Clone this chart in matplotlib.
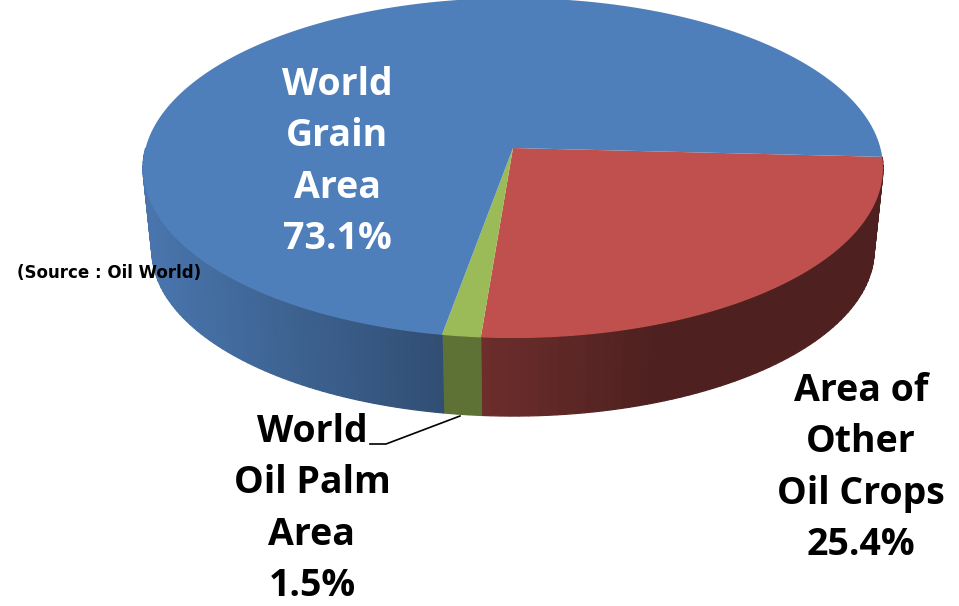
import numpy as np
import matplotlib
matplotlib.use("Agg")
import matplotlib.pyplot as plt
from matplotlib.colors import to_rgb

labels = ["Area of\nOther\nOil Crops\n25.4%", "World\nOil Palm\nArea\n1.5%", "World\nGrain\nArea\n73.1%"]
values = [25.4, 1.5, 73.1]
top_colors = ["#bf504d", "#9bbb59", "#4f7fbb"]
source = "(Source : Oil World)"

W, H = 959, 606
CX, APEX_Y, A, B, K = 513, 148, 367.4, 167.6, 0.118
LOWER_Y, LOWER_SCALE = 230.6, 0.976
START = 3.0

plt.rcParams['font.family'] = ['Open Sans', 'DejaVu Sans']
fig = plt.figure(figsize=(W / 100, H / 100), dpi=100)
ax = fig.add_axes([0, 0, 1, 1])
ax.set_xlim(0, W)
ax.set_ylim(H, 0)
ax.axis("off")


def rim(t, cy=APEX_Y, s=1.0):
    w = 1 - K * np.sin(t)
    return CX + s * A * np.cos(t) / w, cy + s * B * np.sin(t) / w


def mix(c, f):
    return tuple(np.array(to_rgb(c)) * f)


def shade(i, x):
    if i == 0:   # red wall: dark beyond x=650, lighter next to the green slice
        return 0.41 + 0.16 * np.clip((650 - x) / 170, 0, 1)
    if i == 1:
        return 0.61
    return 0.62 + 0.30 * np.clip((440 - x) / 290, 0, 1)


angle = START
for i, (v, c) in enumerate(zip(values, top_colors)):
    a0 = np.radians(angle)
    a1 = np.radians(angle + v * 3.6)
    x, y = rim(np.linspace(a0, a1, 400))
    lim = min(a1, np.pi)
    if a0 < np.pi:
        n = 70 if i != 1 else 4
        edges = np.linspace(a0, lim, n)
        for k in range(n - 1):
            seg = np.linspace(edges[k], edges[k + 1], 4)
            xt, yt = rim(seg)
            xb, yb = rim(seg, LOWER_Y, LOWER_SCALE)
            ax.fill(np.r_[xt, xb[::-1]], np.r_[yt, yb[::-1]],
                    color=mix(c, shade(i, xt.mean())), lw=0.9, zorder=2)
    ax.fill(np.r_[CX, x], np.r_[APEX_Y, y], color=c, lw=0, zorder=3)
    angle += v * 3.6

txt = dict(ha="center", va="center", fontweight="bold", fontsize=27, linespacing=1.47)
ax.text(337, 162, labels[2], color="white", zorder=5, **txt)
ax.text(861, 468, labels[0], color="black", zorder=5, **txt)
ax.text(312, 509, labels[1], color="black", zorder=5, **txt)
ax.plot([370, 386, 460], [444, 444, 416], color="black", lw=1.2, zorder=4)
ax.text(109, 273, source, color="black", ha="center", va="center", family="DejaVu Sans",
        fontweight="bold", fontsize=12, zorder=6)

fig.savefig("out.png", dpi=100, facecolor="white")
